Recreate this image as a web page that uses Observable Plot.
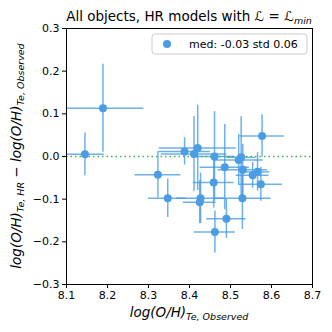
<!DOCTYPE html>
<html><head><meta charset="utf-8">
<script src="https://cdn.jsdelivr.net/npm/d3@7"></script>
<script src="https://cdn.jsdelivr.net/npm/@observablehq/plot@0.6"></script>
<style>body{margin:0;background:#fff}</style>
</head><body><div id="chart"></div>
<script>
// Data
const xObs  = [8.145, 8.189, 8.323, 8.347, 8.388, 8.420, 8.411, 8.461, 8.486, 8.520, 8.526, 8.530, 8.554, 8.566, 8.574, 8.577, 8.459, 8.529, 8.490, 8.427, 8.425, 8.462];
const yDiff = [0.005, 0.113, -0.043, -0.098, 0.012, 0.020, 0.006, 0.000, -0.025, -0.008, -0.002, -0.031, -0.044, -0.036, -0.065, 0.048, -0.061, -0.098, -0.146, -0.098, -0.107, -0.177];
const xErr  = [0.047, 0.100, 0.056, 0.047, 0.063, 0.094, 0.080, 0.050, 0.060, 0.060, 0.035, 0.060, 0.040, 0.030, 0.053, 0.054, 0.050, 0.070, 0.048, 0.058, 0.040, 0.050];
const yErr  = [0.050, 0.103, 0.054, 0.045, 0.032, 0.100, 0.088, 0.105, 0.100, 0.060, 0.095, 0.060, 0.030, 0.045, 0.040, 0.050, 0.060, 0.073, 0.046, 0.059, 0.050, 0.049];
const xTicks = [8.1, 8.2, 8.3, 8.4, 8.5, 8.6, 8.7];
const yTicks = [-0.3, -0.2, -0.1, 0.0, 0.1, 0.2, 0.3];
const refLine = [0];
const legendLabel = "med: -0.03 std 0.06";

const data = xObs.map((x, i) => ({x, y: yDiff[i], xe: xErr[i], ye: yErr[i]}));
const color = "#4a9de3";

const svg = Plot.plot({
  width: 332, height: 332,
  marginLeft: 66, marginRight: 20, marginTop: 28, marginBottom: 48,
  style: {fontFamily: "DejaVu Sans", fontSize: "11px", color: "black", background: "white"},
  x: {domain: [8.1, 8.7], ticks: xTicks, tickFormat: d3.format(".1f"), tickSize: 4, tickPadding: 3, label: null},
  y: {domain: [-0.3, 0.3], ticks: yTicks, tickFormat: d3.format(".1f"), tickSize: 4, tickPadding: 3, label: null},
  marks: [
    Plot.ruleY(data, {y: "y", x1: d => d.x - d.xe, x2: d => d.x + d.xe, stroke: color, strokeWidth: 1.5, strokeOpacity: 0.8, clip: true}),
    Plot.ruleX(data, {x: "x", y1: d => d.y - d.ye, y2: d => d.y + d.ye, stroke: color, strokeWidth: 1.5, strokeOpacity: 0.8, clip: true}),
    Plot.ruleY(refLine, {stroke: "#3cb44b", strokeDasharray: "1.5,3", strokeWidth: 1.7}),
    Plot.dot(data, {x: "x", y: "y", r: 4, fill: color}),
    Plot.frame({stroke: "black"})
  ]
});
document.getElementById("chart").appendChild(svg);

const s = d3.select(svg);
const ff = "DejaVu Sans";
// Title
const t = s.append("text").attr("x", 189).attr("y", 21).attr("text-anchor", "middle")
  .attr("font-family", ff).attr("font-size", 13.5).attr("fill", "black");
t.append("tspan").text("All objects, HR models with ");
t.append("tspan").attr("font-style", "italic").text("ℒ = ℒ");
t.append("tspan").attr("font-style", "italic").attr("font-size", 9.5).attr("dy", 3).text("min");

// Y label
const yl = s.append("text").attr("transform", "translate(21,156) rotate(-90)").attr("text-anchor", "middle")
  .attr("font-family", ff).attr("font-size", 13.5).attr("font-style", "italic").attr("fill", "black");
yl.append("tspan").text("log(O/H)");
yl.append("tspan").attr("font-size", 9.5).attr("dy", 3).text("Te, HR");
yl.append("tspan").attr("dy", -3).text(" − log(O/H)");
yl.append("tspan").attr("font-size", 9.5).attr("dy", 3).text("Te, Observed");

// X label
const xl = s.append("text").attr("x", 189).attr("y", 317).attr("text-anchor", "middle")
  .attr("font-family", ff).attr("font-size", 13.5).attr("font-style", "italic").attr("fill", "black");
xl.append("tspan").text("log(O/H)");
xl.append("tspan").attr("font-size", 9.5).attr("dy", 3).text("Te, Observed");

// Legend
const lg = s.append("g");
lg.append("rect").attr("x", 152).attr("y", 34).attr("width", 155).attr("height", 20).attr("rx", 3)
  .attr("fill", "white").attr("fill-opacity", 0.85).attr("stroke", "#cccccc");
lg.append("circle").attr("cx", 167).attr("cy", 44).attr("r", 4).attr("fill", color);
lg.append("text").attr("x", 189).attr("y", 48).attr("text-anchor", "start").attr("font-family", ff).attr("font-size", 11)
  .attr("fill", "black").text(legendLabel);
</script>
</body></html>
